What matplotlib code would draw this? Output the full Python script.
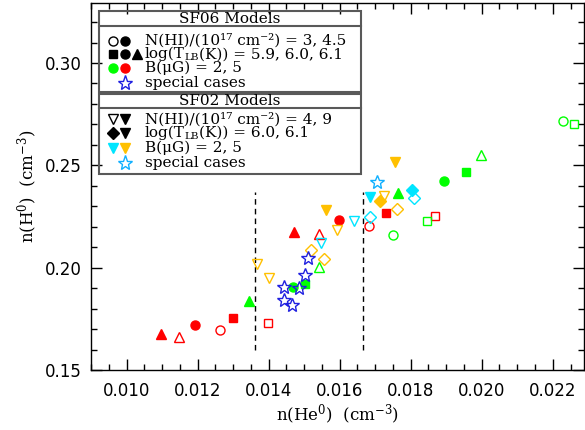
import matplotlib
matplotlib.use('Agg')
import matplotlib.pyplot as plt
from matplotlib.ticker import MultipleLocator
from matplotlib.patches import Rectangle
from matplotlib.transforms import offset_copy

plt.rcParams['mathtext.fontset'] = 'dejavuserif'

# SF06 models: n(He0), n(H0), log T_LB, N(HI)/1e17, B(muG)
sf06_he = [0.01097, 0.01148, 0.01193, 0.01263, 0.01300, 0.01397,
           0.01472, 0.01542, 0.01598, 0.01683, 0.01730, 0.01868,
           0.01345, 0.01542, 0.01470, 0.01502, 0.01765, 0.01751,
           0.01846, 0.01894, 0.01957, 0.01999, 0.02228, 0.02261]
sf06_h = [0.1676, 0.1663, 0.1720, 0.1697, 0.1753, 0.1728,
          0.2172, 0.2163, 0.2235, 0.2204, 0.2267, 0.2251,
          0.1839, 0.2002, 0.1906, 0.1920, 0.2363, 0.2161,
          0.2227, 0.2425, 0.2466, 0.2550, 0.2718, 0.2702]
sf06_logT = [6.1, 6.1, 6.0, 6.0, 5.9, 5.9, 6.1, 6.1, 6.0, 6.0, 5.9, 5.9,
             6.1, 6.1, 6.0, 5.9, 6.1, 6.0, 5.9, 6.0, 5.9, 6.1, 6.0, 5.9]
sf06_nhi = [4.5, 3, 4.5, 3, 4.5, 3, 4.5, 3, 4.5, 3, 4.5, 3,
            4.5, 3, 4.5, 4.5, 4.5, 3, 3, 4.5, 4.5, 3, 3, 3]
sf06_B = [5] * 12 + [2] * 12

# SF02 models
sf02_he = [0.01368, 0.01402, 0.01520, 0.01557, 0.01563, 0.01592,
           0.01714, 0.01726, 0.01761, 0.01757,
           0.01548, 0.01641, 0.01686, 0.01685, 0.01803, 0.01809]
sf02_h = [0.2016, 0.1948, 0.2085, 0.2044, 0.2282, 0.2184,
          0.2326, 0.2350, 0.2285, 0.2518,
          0.2122, 0.2228, 0.2249, 0.2347, 0.2379, 0.2342]
sf02_logT = [6.1, 6.1, 6.0, 6.0, 6.1, 6.1, 6.0, 6.1, 6.0, 6.1,
             6.1, 6.1, 6.0, 6.1, 6.0, 6.0]
sf02_nhi = [4, 4, 4, 4, 9, 4, 9, 4, 4, 9,
            4, 4, 4, 9, 9, 4]
sf02_B = [5] * 10 + [2] * 6

# special cases
sf06_spec_he = [0.01512, 0.01502, 0.01442, 0.01487, 0.01444, 0.01466]
sf06_spec_h = [0.2046, 0.1963, 0.1907, 0.1899, 0.1843, 0.1818]
sf02_spec_he = [0.01704]
sf02_spec_h = [0.2420]

# dashed limits
dash_x = [0.01362, 0.01665]
dash_y = [0.160, 0.237]

RED, GREEN = '#ff0000', '#00ff00'
ORANGE, CYAN = '#ffc000', '#00e5ff'
BLUE, LBLUE = '#2020e0', '#10b0ff'

sf06_mk = {5.9: 's', 6.0: 'o', 6.1: '^'}
sf06_col = {2: GREEN, 5: RED}
sf02_mk = {6.0: 'D', 6.1: 'v'}
sf02_col = {2: CYAN, 5: ORANGE}
msize = {'s': 6.3, 'o': 6.5, '^': 6.8, 'v': 6.8, 'D': 5.8}


def point(ax, x, y, mk, col, filled, **kw):
    ms = kw.pop('ms', msize.get(mk, 6.5))
    ax.plot(x, y, ls='none', marker=mk, ms=ms, mec=col,
            mfc=col if filled else 'none', mew=1.0, **kw)


fig = plt.figure(figsize=(5.85, 4.30), dpi=100)
ax = fig.add_axes([91 / 585, 60 / 430, 493 / 585, 367 / 430])

ax.vlines(dash_x, dash_y[0], dash_y[1], colors='k', linestyles=(0, (4, 3)), lw=1)

for x, y, t, n, b in zip(sf06_he, sf06_h, sf06_logT, sf06_nhi, sf06_B):
    point(ax, x, y, sf06_mk[t], sf06_col[b], n > 4)
for x, y, t, n, b in zip(sf02_he, sf02_h, sf02_logT, sf02_nhi, sf02_B):
    point(ax, x, y, sf02_mk[t], sf02_col[b], n > 5)
ax.plot(sf06_spec_he, sf06_spec_h, ls='none', marker='*', ms=10, mfc='none', mec=BLUE, mew=1.0)
ax.plot(sf02_spec_he, sf02_spec_h, ls='none', marker='*', ms=10, mfc='none', mec=LBLUE, mew=1.0)

ax.set_xlim(0.009, 0.02288)
ax.set_ylim(0.15, 0.3293)
ax.xaxis.set_major_locator(MultipleLocator(0.002))
ax.xaxis.set_minor_locator(MultipleLocator(0.0005))
ax.yaxis.set_major_locator(MultipleLocator(0.05))
ax.yaxis.set_minor_locator(MultipleLocator(0.01))
ax.xaxis.set_major_formatter(plt.FormatStrFormatter('%.3f'))
ax.yaxis.set_major_formatter(plt.FormatStrFormatter('%.2f'))
ax.tick_params(which='both', direction='in', top=True, right=True, width=1, labelsize=12)
ax.tick_params(which='major', length=8)
ax.tick_params(which='minor', length=4)
ax.tick_params(axis='x', pad=9)
ax.tick_params(axis='y', pad=7)
for s in ax.spines.values():
    s.set_linewidth(1)

ax.set_xlabel(r'n(He$^0$)  (cm$^{-3}$)', family='DejaVu Serif', fontsize=12, labelpad=2)
ax.set_ylabel(r'n(H$^0$)  (cm$^{-3}$)', family='DejaVu Serif', fontsize=12, labelpad=3)


# legend, in pixel positions of the figure converted to axes fractions
def fx(px):
    return (px - 91) / 493


def fy(py):
    return (370 - py) / 367


tr = ax.transAxes
gray = '0.35'
for top, bot, line in [(11, 92.5, 26.5), (94.5, 174, 108.5)]:
    ax.add_patch(Rectangle((fx(99), fy(bot)), fx(361) - fx(99), fy(top) - fy(bot),
                           transform=tr, fill=False, ec=gray, lw=1.5, zorder=5))
    ax.plot([fx(99), fx(361)], [fy(line), fy(line)], transform=tr, color=gray, lw=1.5, zorder=5)

tkw = dict(family='DejaVu Serif', fontsize=11, va='center', zorder=6)
ax.text(fx(230), fy(19), 'SF06 Models', ha='center', transform=tr, **tkw)
ax.text(fx(230), fy(101.5), 'SF02 Models', ha='center', transform=tr, **tkw)

rows06 = ['N(HI)/(10\u00b9\u2077 cm\u207b\u00b2) = 3, 4.5',
          ('log(T', 'LB', '(K)) = 5.9, 6.0, 6.1'),
          'B(\u03bcG) = 2, 5',
          'special cases']
rows02 = ['N(HI)/(10\u00b9\u2077 cm\u207b\u00b2) = 4, 9',
          ('log(T', 'LB', '(K)) = 6.0, 6.1'),
          'B(\u03bcG) = 2, 5',
          'special cases']
ys06 = [40.7, 54.3, 68.3, 82.7]
ys02 = [119.5, 133, 148.3, 163.5]

renderer = fig.canvas.get_renderer()


def row_text(txt, py):
    if isinstance(txt, str):
        ax.text(fx(145), fy(py), txt, ha='left', transform=tr, **tkw)
        return
    # text with a small lowered subscript, built from pieces
    head, sub, tail = txt
    t1 = ax.text(fx(145), fy(py), head, ha='left', transform=tr, **tkw)
    w1 = t1.get_window_extent(renderer).width
    kw2 = dict(tkw, fontsize=7.5)
    t2 = ax.text(fx(145), fy(py), sub, ha='left',
                 transform=offset_copy(tr, fig=fig, x=w1, y=-3.5, units='dots'), **kw2)
    w2 = t2.get_window_extent(renderer).width
    ax.text(fx(145), fy(py), tail, ha='left',
            transform=offset_copy(tr, fig=fig, x=w1 + w2, y=0, units='dots'), **tkw)


for txt, py in zip(rows06, ys06):
    row_text(txt, py)
for txt, py in zip(rows02, ys02):
    row_text(txt, py)

lkw = dict(transform=tr, clip_on=False, zorder=6)
c1, c2, c3 = fx(112.5), fx(124.5), fx(136.5)
point(ax, c1, fy(ys06[0]), 'o', 'k', False, **lkw)
point(ax, c2, fy(ys06[0]), 'o', 'k', True, **lkw)
point(ax, c1, fy(ys06[1]), 's', 'k', True, **lkw)
point(ax, c2, fy(ys06[1]), 'o', 'k', True, **lkw)
point(ax, c3, fy(ys06[1]), '^', 'k', True, **lkw)
point(ax, c1, fy(ys06[2]), 'o', GREEN, True, **lkw)
point(ax, c2, fy(ys06[2]), 'o', RED, True, **lkw)
point(ax, c2, fy(ys06[3]), '*', BLUE, False, ms=11, **lkw)
point(ax, c1, fy(ys02[0]), 'v', 'k', False, **lkw)
point(ax, c2, fy(ys02[0]), 'v', 'k', True, **lkw)
point(ax, c1, fy(ys02[1]), 'D', 'k', True, **lkw)
point(ax, c2, fy(ys02[1]), 'v', 'k', True, **lkw)
point(ax, c1, fy(ys02[2]), 'v', CYAN, True, **lkw)
point(ax, c2, fy(ys02[2]), 'v', ORANGE, True, **lkw)
point(ax, c2, fy(ys02[3]), '*', LBLUE, False, ms=11, **lkw)

fig.savefig('out.png', dpi=100)
